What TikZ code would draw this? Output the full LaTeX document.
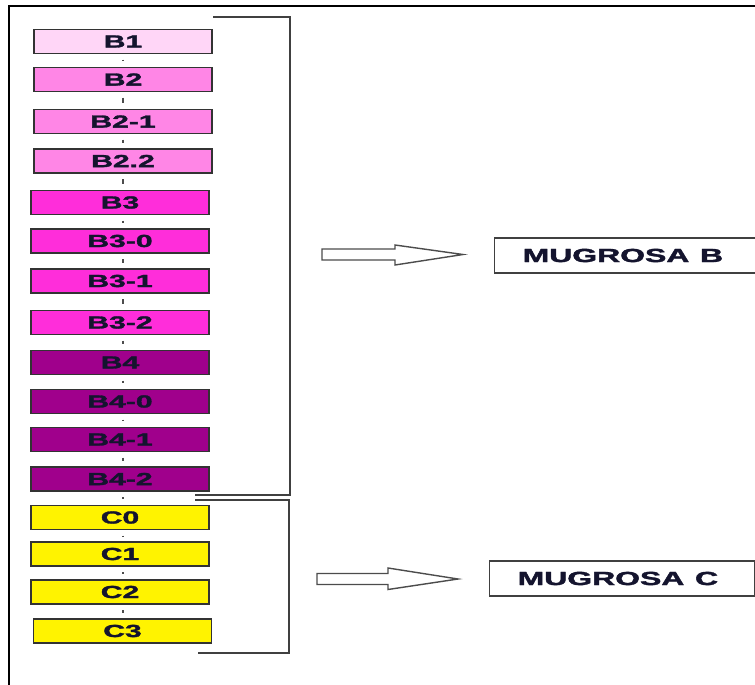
\documentclass[tikz,border=0pt]{standalone}
\usepackage{fontspec}
\setmainfont{Liberation Sans}[BoldFeatures={FakeBold=1.6}]
\definecolor{ink}{HTML}{14142E}
\definecolor{pinkA}{HTML}{FFD6F7}
\definecolor{pinkB}{HTML}{FF86E6}
\definecolor{pinkC}{HTML}{FF2DDA}
\definecolor{plum}{HTML}{A0008C}
\definecolor{lemon}{HTML}{FFF300}
\newcommand\widetxt[1]{\scalebox{1.72}[1]{#1}}
\begin{document}
\begin{tikzpicture}[x=1pt,y=-1pt,
  layer/.style={draw=black!80, line width=1.3pt, minimum width=178pt,
    minimum height=24pt, inner sep=0pt, text=ink,
    font=\bfseries\fontsize{17.5}{18}\selectfont},
  link/.style={draw=black!70, line width=2.4pt, shorten <=5.5pt, shorten >=5.5pt},
  brace/.style={draw=black!75, line width=1.8pt},
  frame/.style={draw=black, line width=2pt},
  blockarrow/.style={draw=black!70, fill=white, line width=1.4pt, line join=miter},
  result/.style={draw=black!75, line width=1.4pt, minimum height=35pt,
    inner xsep=28pt, text width=244pt, align=left, text=ink,
    font=\bfseries\fontsize{19}{19}\selectfont}]
\useasboundingbox (0,0) rectangle (755,685);
\clip (0,0) rectangle (755,685);
\fill[white] (0,0) rectangle (755,685);

% outer frame (top and left edges)
\draw[frame] (9,685) -- (9,6) -- (760,6);

% stacked layers
\node[layer, fill=pinkA] (b1)  at (123,41.5)  {\widetxt{B1}};
\node[layer, fill=pinkB] (b2)  at (123,79.5)  {\widetxt{B2}};
\node[layer, fill=pinkB] (b21) at (123,121.5) {\widetxt{B2-1}};
\node[layer, fill=pinkB] (b22) at (123,161)   {\widetxt{B2.2}};
\node[layer, fill=pinkC] (b3)  at (120,202.5) {\widetxt{B3}};
\node[layer, fill=pinkC] (b30) at (120,241)   {\widetxt{B3-0}};
\node[layer, fill=pinkC] (b31) at (120,281)   {\widetxt{B3-1}};
\node[layer, fill=pinkC] (b32) at (120,322.5) {\widetxt{B3-2}};
\node[layer, fill=plum]  (b4)  at (120,362.5) {\widetxt{B4}};
\node[layer, fill=plum]  (b40) at (120,401.5) {\widetxt{B4-0}};
\node[layer, fill=plum]  (b41) at (120,439.5) {\widetxt{B4-1}};
\node[layer, fill=plum]  (b42) at (120,479)   {\widetxt{B4-2}};
\node[layer, fill=lemon] (c0)  at (120,517.5) {\widetxt{C0}};
\node[layer, fill=lemon] (c1)  at (120,554)   {\widetxt{C1}};
\node[layer, fill=lemon] (c2)  at (120,592)   {\widetxt{C2}};
\node[layer, fill=lemon] (c3)  at (122.5,631) {\widetxt{C3}};

% short links between consecutive layers
\foreach \a/\b in {b1/b2,b2/b21,b21/b22,b22/b3,b3/b30,b30/b31,b31/b32,
                   b32/b4,b4/b40,b40/b41,b41/b42,b42/c0,c0/c1,c1/c2,c2/c3}
  \draw[link] (\a.south -| 123,0) -- (\b.north -| 123,0);

% brackets grouping the layers
\draw[brace] (213,17) -- (290,17) -- (290,495) -- (195,495);
\draw[brace] (195,500) -- (289,500) -- (289,653) -- (198,653);

% block arrows
\draw[blockarrow] (322,249) -- (395,249) -- (395,245) -- (463,254.5)
  -- (395,265) -- (395,260) -- (322,260) -- cycle;
\draw[blockarrow] (317,573.5) -- (388,573.5) -- (388,568) -- (458,579)
  -- (388,589.5) -- (388,584.5) -- (317,584.5) -- cycle;

% resulting groups
\node[result, anchor=west] (mb) at (494,255.5) {\scalebox{1.68}[1]{MUGROSA B}};
\node[result, anchor=west, text width=209pt] (mc) at (489,578.5) {\scalebox{1.68}[1]{MUGROSA C}};
\end{tikzpicture}
\end{document}
